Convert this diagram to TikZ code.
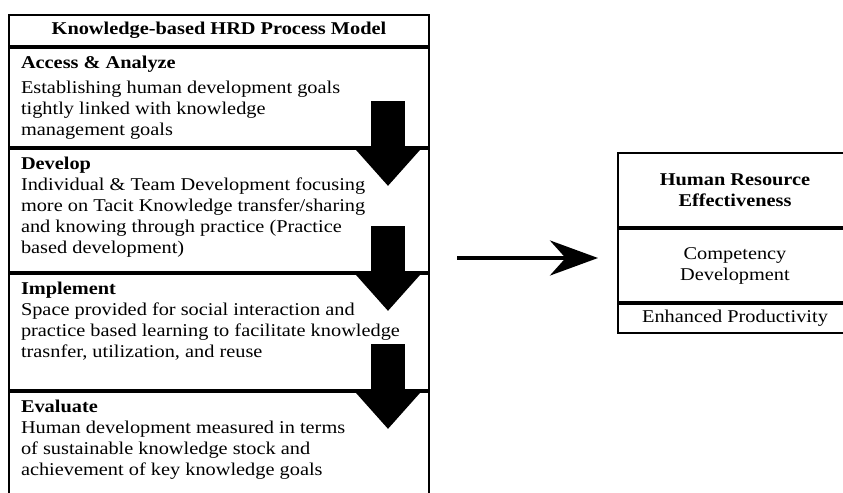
\documentclass[tikz,border=0pt]{standalone}
\usepackage{fontspec}
\setmainfont[FakeStretch=1.13]{Liberation Serif}
\usepackage{tikz}
\usetikzlibrary{arrows.meta}
\usetikzlibrary{positioning}
\tikzset{
    block/.style={
           rectangle,
           draw=black, line width=1pt,
           minimum width=210pt,
           inner xsep=6pt, inner ysep=4pt,
           font=\fontsize{9pt}{10.5pt}\selectfont,
           },
    header/.style={
           block,
           minimum height=15.5pt,
           inner ysep=2pt,
           font=\fontsize{9pt}{10.5pt}\selectfont\bfseries,
           },
    outcome/.style={
           rectangle,
           draw=black, line width=1pt,
           minimum width=117pt,
           inner xsep=2pt, inner ysep=1pt,
           align=center,
           font=\fontsize{9pt}{10.5pt}\selectfont,
           },
    downarrow/.style={
           line width=17pt,
           -{Triangle[length=19pt,width=32.5pt]},
           },
}

\begin{document}
\begin{tikzpicture}
	\useasboundingbox (0,0) rectangle (421.5pt,-246.5pt);
	\clip (0,0) rectangle (421.5pt,-246.5pt);

	% process model, one row per stage
	\node[header, anchor=north west] (model) at (4pt,-7pt) {Knowledge-based HRD Process Model};
	\node[block, below=0pt of model] (access) {
		\parbox[t][41.5pt][t]{198pt}{\raggedright
		\textbf{Access \& Analyze}\\[2pt]
		Establishing human development goals\\
		tightly linked with knowledge\\
		management goals}
	};
	\node[block, below=0pt of access] (develop) {
		\parbox[t][53.5pt][t]{198pt}{\raggedright
		\textbf{Develop}\\
		Individual \& Team Development focusing\\
		more on Tacit Knowledge transfer/sharing\\
		and knowing through practice (Practice\\
		based development)}
	};
	\node[block, below=0pt of develop] (implement) {
		\parbox[t][50pt][t]{198pt}{\raggedright
		\textbf{Implement}\\
		Space provided for social interaction and\\
		practice based learning to facilitate knowledge\\
		trasnfer, utilization, and reuse}
	};
	\node[block, below=0pt of implement] (evaluate) {
		\parbox[t][70pt][t]{198pt}{\raggedright
		\textbf{Evaluate}\\
		Human development measured in terms\\
		of sustainable knowledge stock and\\
		achievement of key knowledge goals}
	};

	% outcome box
	\node[outcome, anchor=north west, minimum height=37pt] (hre) at (308.5pt,-76pt) {\textbf{Human Resource}\\\textbf{Effectiveness}};
	\node[outcome, below=0pt of hre, minimum height=36.5pt] (comp) {Competency\\Development};
	\node[outcome, below=0pt of comp, minimum height=14.5pt] (prod) {Enhanced Productivity};

	% arrows between the stages
	\foreach \s in {access, develop, implement}
		\draw[downarrow] ([xshift=-21pt,yshift=23.5pt]\s.south east) -- ([xshift=-21pt,yshift=-19pt]\s.south east);

	\draw[line width=2pt, -{Stealth[length=24pt,width=17.5pt]}, shorten <=13.5pt, shorten >=9.5pt]
		([yshift=3.75pt]comp.west -| develop.east) -- ([yshift=3.75pt]comp.west);
\end{tikzpicture}
\end{document}
